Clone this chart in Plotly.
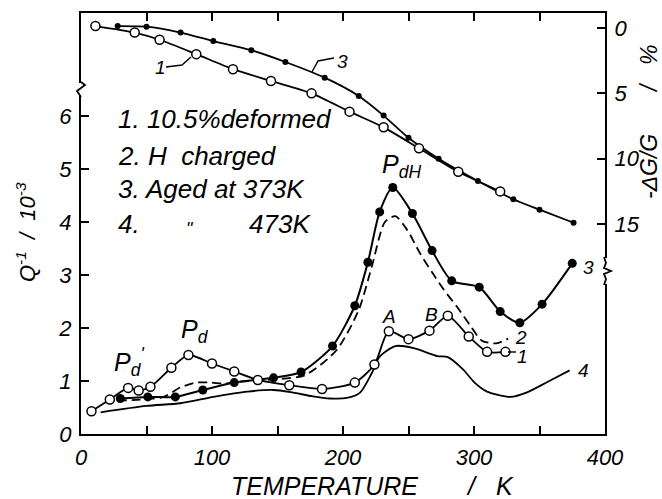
import plotly.graph_objects as go

# ---- data -------------------------------------------------------------
# Modulus defect -dG/G (%) vs temperature (upper curves, right axis)
t_dg_deformed = [11, 41, 60, 88, 116, 145, 176, 205, 231, 258, 288, 320]
dg_deformed = [-0.15, 0.35, 0.9, 2.0, 3.15, 4.05, 5.0, 6.4, 7.6, 9.2, 11.0, 12.5]

t_dg_aged373 = [28, 50, 76, 101, 130, 156, 186, 212, 231, 250, 273, 303, 330, 350, 376]
dg_aged373 = [-0.15, -0.1, 0.35, 1.0, 1.7, 2.6, 3.8, 5.2, 6.7, 8.4, 10.0, 11.7, 13.1, 13.9, 14.9]

# Internal friction Q^-1 (x10^-3) vs temperature (lower curves, left axis)
t_q_deformed = [8, 22, 36, 44, 53, 69, 82, 100, 117, 135, 159, 184, 209, 224, 235, 250, 266, 280, 296, 310, 324]
q_deformed = [0.43, 0.65, 0.87, 0.82, 0.89, 1.25, 1.49, 1.33, 1.18, 1.02, 0.92, 0.85, 0.97, 1.31, 1.94, 1.79,
              1.95, 2.23, 1.84, 1.55, 1.55]

t_q_hcharged = [28, 45, 63, 76, 88, 99, 110, 117, 147, 171, 195, 212, 222, 232, 240, 249, 259, 268, 277,
                287, 297, 306, 317, 326]
q_hcharged = [0.63, 0.65, 0.70, 0.88, 0.97, 0.97, 0.95, 0.98, 1.03, 1.11, 1.58, 2.34, 3.16, 4.0, 4.11, 3.85,
              3.4, 3.05, 2.72, 2.4, 2.05, 1.76, 1.71, 1.8]

t_q_aged373 = [30, 51, 72, 93, 117, 147, 168, 192, 209, 219, 228, 238, 253, 268, 283, 304, 320, 335, 352, 375]
q_aged373 = [0.67, 0.70, 0.70, 0.83, 0.97, 1.06, 1.17, 1.66, 2.42, 3.24, 4.19, 4.65, 4.16, 3.46, 2.89, 2.77,
             2.31, 2.10, 2.45, 3.22]

t_q_aged473 = [15, 50, 76, 101, 127, 147, 160, 177, 190, 203, 213, 222, 228, 240, 254, 272, 280, 292, 300,
               310, 328, 340, 356, 373]
q_aged473 = [0.41, 0.53, 0.58, 0.70, 0.80, 0.83, 0.79, 0.71, 0.67, 0.68, 0.78, 1.15, 1.46, 1.66, 1.62, 1.47,
             1.45, 1.21, 0.98, 0.80, 0.70, 0.78, 0.98, 1.2]

x_tickvals = [0, 100, 200, 300, 400]
x_minor_step = 50
q_tickvals = [0, 1, 2, 3, 4, 5, 6]
q_right_tickvals = [1, 2]
dg_tickvals = [0, 5, 10, 15]

# ---- figure geometry --------------------------------------------------
W, H = 662, 499
ML, MR, MT, MB = 81, 57, 13, 65
PW, PH = W - ML - MR, H - MT - MB
FONT = "Liberation Sans"
INK = "black"


def px(x):
    return (x - ML) / PW


def py(y):
    return (H - MB - y) / PH


fig = go.Figure()

line_kw = dict(color=INK, width=1.8, shape="spline", smoothing=0.7)

fig.add_trace(go.Scatter(x=t_q_aged473, y=q_aged473, mode="lines", line=line_kw, yaxis="y"))
fig.add_trace(go.Scatter(x=t_q_hcharged, y=q_hcharged, mode="lines",
                         line=dict(line_kw, dash="9px,5px"), yaxis="y"))
fig.add_trace(go.Scatter(x=t_q_aged373, y=q_aged373, mode="lines+markers", line=dict(line_kw, width=2),
                         marker=dict(size=9, color=INK), yaxis="y"))
fig.add_trace(go.Scatter(x=t_q_deformed, y=q_deformed, mode="lines+markers", line=line_kw,
                         marker=dict(size=9, color="white", line=dict(color=INK, width=1.5)), yaxis="y"))
fig.add_trace(go.Scatter(x=t_dg_aged373, y=dg_aged373, mode="lines+markers", line=line_kw,
                         marker=dict(size=6, color=INK), yaxis="y2"))
fig.add_trace(go.Scatter(x=t_dg_deformed, y=dg_deformed, mode="lines+markers", line=line_kw,
                         marker=dict(size=9, color="white", line=dict(color=INK, width=1.5)), yaxis="y2"))

tick_font = dict(family=FONT, size=22, color=INK, style="italic")
axis_common = dict(showgrid=False, zeroline=False, ticks="inside", ticklen=8, tickwidth=1.8,
                   tickcolor=INK, linecolor=INK, linewidth=2, tickfont=tick_font)

q_range = [0, PH / 53.0]
dg_range = [(H - MB - 28) / 13.07, -15 / 13.07]

fig.update_layout(
    width=W, height=H,
    margin=dict(l=ML, r=MR, t=MT, b=MB),
    paper_bgcolor="white", plot_bgcolor="white",
    showlegend=False,
    xaxis=dict(axis_common, range=[0, 400], tickvals=x_tickvals,
               minor=dict(dtick=x_minor_step, ticks="inside", ticklen=8, tickwidth=1.8, tickcolor=INK,
                          showgrid=False),
               showline=True, mirror="allticks", ticklabelstandoff=3),
    yaxis=dict(axis_common, range=q_range, tickvals=q_tickvals, showline=True, ticklabelstandoff=3),
    yaxis2=dict(axis_common, range=dg_range, tickvals=dg_tickvals, overlaying="y", side="right",
                showline=True, ticklabelstandoff=3),
    yaxis3=dict(axis_common, range=q_range, tickvals=q_right_tickvals, overlaying="y", side="right",
                showline=False, showticklabels=False),
)

ann = []


def text(x, y, s, size=22, xanchor="center", yanchor="middle", angle=0):
    ann.append(dict(x=px(x), y=py(y), xref="paper", yref="paper", text=s, showarrow=False,
                    xanchor=xanchor, yanchor=yanchor, textangle=angle,
                    font=dict(family=FONT, size=size, color=INK, style="italic")))


# key
text(116, 119, "1. 10.5%deformed", 26, "left")
text(116, 156, "2. H  charged", 26, "left")
text(116, 189, "3. Aged at 373K", 26, "left")
text(116, 224, "4.", 26, "left")
text(190, 229, "\"", 18)
text(247, 224, "473K", 26, "left")

# peak labels
text(380, 166, "P<sub>dH</sub>", 25, "left")
text(179, 331, "P<sub>d</sub>", 25, "left")
text(112, 362, "P<sub>d</sub><sup>'</sup>", 25, "left")
text(389, 316, "A", 19)
text(431, 314, "B", 19)

# curve numbers
text(522, 356, "1", 19)
text(521, 337, "2", 19)
text(588, 267, "3", 19)
text(583, 370, "4", 19)
text(160, 67, "1", 19)
text(342, 61, "3", 19)

# axis titles
text(229, 486, "TEMPERATURE", 25, "left")
text(472, 486, "/", 25)
text(505, 486, "K", 25)
text(26, 232, "Q<sup>-1</sup> &nbsp;/ &nbsp;10<sup>-3</sup>", 22, angle=-90)
text(649, 167, "-ΔG/G", 23, angle=-90)
text(649, 88, "/", 23, angle=-90)
text(649, 55, "%", 23, angle=-90)

fig.update_layout(annotations=ann)


def path(points):
    return "M " + " L ".join(f"{px(a):.4f},{py(b):.4f}" for a, b in points)


shapes = []
# leaders to the curve numbers
shapes.append(dict(type="path", xref="paper", yref="paper", line=dict(color=INK, width=1.4),
                   path=path([(166, 67), (182, 65), (191, 57)])))
shapes.append(dict(type="path", xref="paper", yref="paper", line=dict(color=INK, width=1.4),
                   path=path([(312, 72), (318, 61), (334, 58)])))
shapes.append(dict(type="path", xref="paper", yref="paper", line=dict(color=INK, width=1.4),
                   path=path([(508, 352), (516, 352)])))

# break marks on the two vertical axes
shapes.append(dict(type="rect", xref="paper", yref="paper", x0=px(78), x1=px(84), y0=py(96), y1=py(83),
                   fillcolor="white", line=dict(width=0)))
shapes.append(dict(type="path", xref="paper", yref="paper", line=dict(color=INK, width=1.8),
                   path=path([(81, 82), (85, 85), (77, 91), (81, 97)])))
shapes.append(dict(type="rect", xref="paper", yref="paper", x0=px(602), x1=px(607), y0=py(284), y1=py(258),
                   fillcolor="white", line=dict(width=0)))
shapes.append(dict(type="path", xref="paper", yref="paper", line=dict(color=INK, width=1.8),
                   path=path([(604, 257), (606, 263), (604, 268), (611, 271), (604, 274), (606, 279),
                              (604, 285)])))
fig.update_layout(shapes=shapes)

fig.write_html("out.html")
